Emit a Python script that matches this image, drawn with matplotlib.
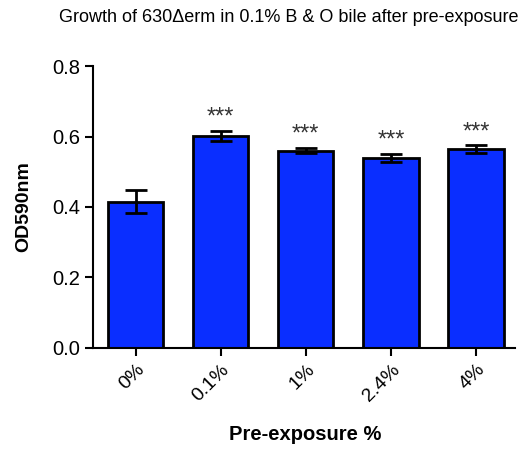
import matplotlib
matplotlib.use("Agg")
import matplotlib.pyplot as plt

plt.rcParams["font.family"] = ["Liberation Sans", "DejaVu Sans"]

categories = ["0%", "0.1%", "1%", "2.4%", "4%"]
od590 = [0.415, 0.602, 0.560, 0.540, 0.564]
sem = [0.032, 0.015, 0.008, 0.011, 0.011]
signif = ["", "***", "***", "***", "***"]

fig = plt.figure(figsize=(5.3, 4.5), dpi=100)
ax = fig.add_axes([0.1755, 0.2267, 0.7965, 0.6266])

x = list(range(len(categories)))
ax.bar(x, od590, width=0.65, color="#0A2EFF", edgecolor="black", linewidth=2,
       yerr=sem, error_kw=dict(ecolor="black", elinewidth=2, capsize=8, capthick=2),
       zorder=2)

for xi, v, e, s in zip(x, od590, sem, signif):
    if s:
        ax.annotate(s, (xi, v + e), xytext=(0, 5), textcoords="offset points",
                    ha="center", va="baseline", fontsize=17, color="#333333")

ax.set_xlim(-0.5, 4.46)
ax.set_ylim(0, 0.8)
ax.set_yticks([0.0, 0.2, 0.4, 0.6, 0.8])
ax.set_yticklabels(["0.0", "0.2", "0.4", "0.6", "0.8"], fontsize=14.5)
ax.set_xticks(x)
ax.set_xticklabels(categories, rotation=45, ha="right", rotation_mode="anchor", fontsize=14)

for side in ["top", "right"]:
    ax.spines[side].set_visible(False)
for side in ["left", "bottom"]:
    ax.spines[side].set_linewidth(1.5)
ax.tick_params(width=1.5, length=6)

ax.set_ylabel("OD590nm", fontsize=14, fontweight="bold")
ax.yaxis.set_label_coords(-0.145, 0.5)
ax.set_xlabel("Pre-exposure %", fontsize=14.5, fontweight="bold")
ax.xaxis.set_label_coords(0.502, -0.272)
fig.text(0.545, 0.96, "Growth of 630\u0394erm in 0.1% B & O bile after pre-exposure",
         ha="center", va="center", fontsize=13)

fig.savefig("out.png", dpi=100)
